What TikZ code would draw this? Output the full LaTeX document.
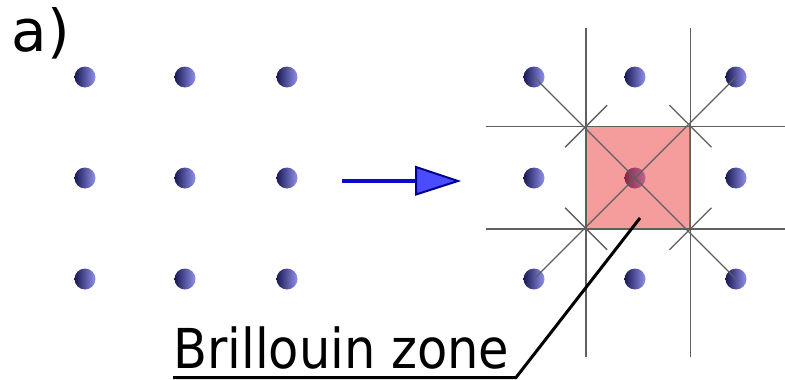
\documentclass[tikz,border=0pt]{standalone}
\usepackage{fontspec}
\setmainfont{DejaVu Sans}
\definecolor{dotdark}{RGB}{25,25,85}
\definecolor{dotlight}{RGB}{145,145,235}
\definecolor{gridgray}{RGB}{95,95,95}
\definecolor{zonefill}{RGB}{236,60,60}
\definecolor{zonedraw}{RGB}{150,20,20}
\definecolor{shaftblue}{RGB}{10,10,205}
\definecolor{headfill}{RGB}{75,75,255}
\definecolor{headdraw}{RGB}{0,0,140}
\begin{document}
\begin{tikzpicture}[x=1pt,y=-1pt,
  dot/.style={circle,minimum size=21pt,inner sep=0pt,left color=dotdark,right color=dotlight},
  gridline/.style={draw=gridgray,line width=1.4pt},
  zone/.style={rectangle,inner sep=0pt,fill=zonefill,fill opacity=0.5,draw=zonedraw,draw opacity=0.6,line width=1pt},
  shaft/.style={draw=shaftblue,line width=4.5pt},
  head/.style={fill=headfill,draw=headdraw,line width=2pt,line join=miter},
  pointer/.style={draw=black,line width=3pt},
  lbl/.style={anchor=base west,inner sep=0pt,text=black}]
\useasboundingbox (0,0) rectangle (785,380);
% left lattice
\foreach \x/\i in {85/1,185/2,287/3}
  \foreach \y/\j in {77/1,178/2,279/3}
    \node[dot] (L\i\j) at (\x,\y) {};
% right lattice
\foreach \x/\i in {534/1,635/2,736/3}
  \foreach \y/\j in {77/1,178/2,279/3}
    \node[dot] (R\i\j) at (\x,\y) {};
% Brillouin zone
\node[zone,minimum width=103.3pt,minimum height=101.6pt] (bz) at (638.3,177.5) {};
% grid lines
\draw[gridline] (bz.north west |- 0,28) -- (bz.south west |- 0,357);
\draw[gridline] (bz.north east |- 0,28) -- (bz.south east |- 0,357);
\draw[gridline] (486,0 |- bz.north west) -- (785,0 |- bz.north west);
\draw[gridline] (486,0 |- bz.south west) -- (785,0 |- bz.south west);
% diagonals
\draw[gridline] (R11.center) -- (R33.center);
\draw[gridline] (R31.center) -- (R13.center);
% ticks
\draw[gridline] ([shift={(-21,21)}]bz.north west) -- ([shift={(21,-21)}]bz.north west);
\draw[gridline] ([shift={(-21,-21)}]bz.north east) -- ([shift={(21,21)}]bz.north east);
\draw[gridline] ([shift={(-21,-21)}]bz.south west) -- ([shift={(21,21)}]bz.south west);
\draw[gridline] ([shift={(-21,21)}]bz.south east) -- ([shift={(21,-21)}]bz.south east);
% arrow
\coordinate (a0) at (342,181);
\coordinate (a1) at (417,181);
\coordinate (h1) at (416,167);
\coordinate (h2) at (458,181);
\coordinate (h3) at (416,194.5);
\draw[shaft] (a0) -- (a1);
\draw[head] (h1) -- (h2) -- (h3) -- cycle;
% labels
\node[lbl] (alabel) at (11.5,51) {\fontsize{58}{60}\selectfont a)};
\node[lbl] (bzlabel) at (173,368) {\scalebox{0.9}[1]{\fontsize{55}{60}\selectfont Brillouin zone}};
\coordinate (u0) at (173,377.5);
\coordinate (u1) at (516,377.5);
\coordinate (ptip) at (640,218);
\draw[pointer] (u0) -- (u1) -- (ptip);
\end{tikzpicture}
\end{document}
